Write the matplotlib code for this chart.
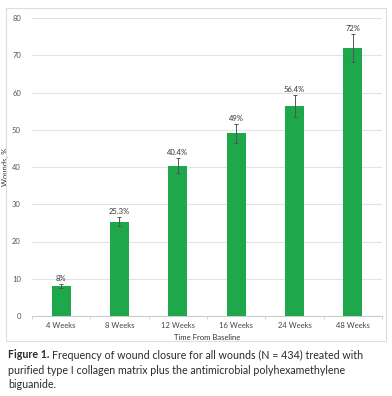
import numpy as np
import matplotlib.pyplot as plt
from matplotlib.patches import Rectangle

weeks = ['4 Weeks', '8 Weeks', '12 Weeks', '16 Weeks', '24 Weeks', '48 Weeks']
closure = [8.0, 25.3, 40.4, 49.0, 56.4, 72.0]
err = [0.5, 1.2, 2.0, 2.6, 3.0, 3.7]
labels = ['8%', '25.3%', '40.4%', '49%', '56.4%', '72%']

plt.rcParams['font.family'] = ['Lato', 'DejaVu Sans']

fig = plt.figure(figsize=(3.92, 3.96), dpi=100)
W, H = 392, 396

# light frame round the chart
fig.patches.append(Rectangle((6 / W, 1 - 341 / H), 380 / W, 333 / H,
                             transform=fig.transFigure, fill=False,
                             edgecolor='#dddddd', linewidth=0.8))

ax = fig.add_axes([32 / W, 1 - 316 / H, 350 / W, 298 / H])
x = np.arange(len(weeks))
ax.bar(x, closure, width=0.33, color='#1fa84b', zorder=3)
ax.errorbar(x, closure, yerr=err, fmt='none', ecolor='#555555',
            elinewidth=0.7, capsize=1.5, capthick=0.7, zorder=4)
for xi, v, e, t in zip(x, closure, err, labels):
    ax.text(xi, v + e + 0.6, t, ha='center', va='bottom', fontsize=5.5,
            color='#333333')

ax.set_xlim(-0.5, len(weeks) - 0.5)
ax.set_ylim(0, 80)
ax.set_yticks(np.arange(0, 81, 10))
ax.set_xticks(x)
ax.set_xticklabels(weeks)
ax.set_xticks(np.arange(-0.5, len(weeks), 1), minor=True)
ax.tick_params(axis='x', which='major', length=0, labelsize=5.5,
               labelcolor='#444444', pad=4)
ax.tick_params(axis='x', which='minor', length=2, color='#cccccc')
ax.tick_params(axis='y', length=0, labelsize=5.5, labelcolor='#555555', pad=8)
ax.grid(axis='y', color='#e3e3e3', linewidth=0.8, zorder=0)
for s in ['top', 'right', 'left']:
    ax.spines[s].set_visible(False)
ax.spines['bottom'].set_color('#cccccc')
ax.set_xlabel('Time From Baseline', fontsize=5.5, color='#333333', labelpad=4)
ax.set_ylabel('Wounds, %', fontsize=5.5, color='#333333', labelpad=2)

cap_color = '#2b2b2b'
fs = 7.7
t1 = fig.text(8 / W, 1 - 355 / H, 'Figure 1.', fontsize=fs, fontweight='bold',
              color=cap_color, va='center')
r = fig.canvas.get_renderer()
bw = t1.get_window_extent(r).width
fig.text((8 + bw + 3) / W, 1 - 355 / H,
         'Frequency of wound closure for all wounds (N = 434) treated with',
         fontsize=fs, color=cap_color, va='center')
fig.text(8 / W, 1 - 370 / H,
         'purified type I collagen matrix plus the antimicrobial polyhexamethylene',
         fontsize=fs, color=cap_color, va='center')
fig.text(8 / W, 1 - 385 / H, 'biguanide.', fontsize=fs, color=cap_color,
         va='center')

fig.savefig('out.png', dpi=100)
